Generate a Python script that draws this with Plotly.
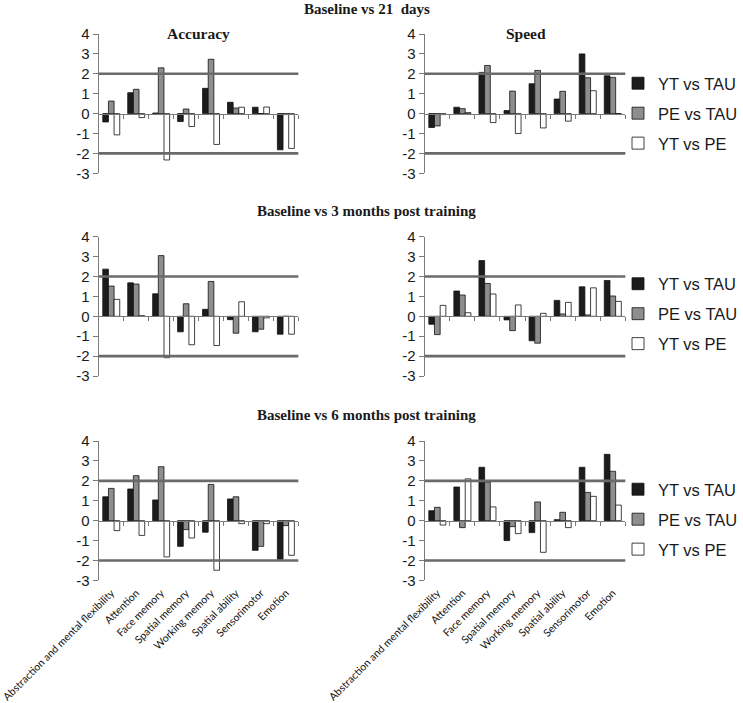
import plotly.graph_objects as go

categories = ["Abstraction and mental flexibility", "Attention", "Face memory",
              "Spatial memory", "Working memory", "Spatial ability",
              "Sensorimotor", "Emotion"]
series_names = ["YT vs TAU", "PE vs TAU", "YT vs PE"]

acc21_yt_tau = [-0.42, 1.05, 0.03, -0.40, 1.27, 0.57, 0.32, -1.82]
acc21_pe_tau = [0.63, 1.22, 2.30, 0.23, 2.73, 0.28, 0.00, -0.05]
acc21_yt_pe = [-1.07, -0.20, -2.33, -0.65, -1.55, 0.32, 0.33, -1.75]

spd21_yt_tau = [-0.70, 0.32, 2.07, 0.15, 1.50, 0.73, 3.00, 1.90]
spd21_pe_tau = [-0.62, 0.25, 2.42, 1.13, 2.17, 1.12, 1.80, 1.82]
spd21_yt_pe = [-0.05, 0.05, -0.45, -1.00, -0.72, -0.38, 1.15, 0.00]

acc3_yt_tau = [2.37, 1.68, 1.13, -0.78, 0.35, -0.17, -0.78, -0.90]
acc3_pe_tau = [1.52, 1.62, 3.05, 0.63, 1.75, -0.85, -0.65, 0.00]
acc3_yt_pe = [0.85, 0.03, -2.08, -1.43, -1.47, 0.73, -0.08, -0.90]

spd3_yt_tau = [-0.40, 1.27, 2.80, -0.18, -1.23, 0.80, 1.48, 1.80]
spd3_pe_tau = [-0.92, 1.07, 1.65, -0.72, -1.35, 0.12, 0.07, 1.02]
spd3_yt_pe = [0.55, 0.18, 1.12, 0.57, 0.15, 0.70, 1.43, 0.75]

acc6_yt_tau = [1.20, 1.59, 1.04, -1.29, -0.58, 1.09, -1.49, -1.94]
acc6_pe_tau = [1.62, 2.26, 2.71, -0.45, 1.82, 1.20, -1.29, -0.25]
acc6_yt_pe = [-0.50, -0.74, -1.82, -0.87, -2.49, -0.15, -0.15, -1.74]

spd6_yt_tau = [0.50, 1.69, 2.68, -1.00, -0.60, 0.05, 2.68, 3.33]
spd6_pe_tau = [0.67, -0.35, 1.94, -0.30, 0.94, 0.42, 1.42, 2.48]
spd6_yt_pe = [-0.22, 2.10, 0.69, -0.65, -1.59, -0.35, 1.22, 0.78]

row_titles = ["Baseline vs 21  days", "Baseline vs 3 months post training",
              "Baseline vs 6 months post training"]
col_titles = ["Accuracy", "Speed"]
y_tick_vals = [-3, -2, -1, 0, 1, 2, 3, 4]
y_tick_text = ["-3", "-2", "-1", "0", "1", "2", "3", "4"]
ref_levels = [2, -2]
y_range = [-3, 4]

panels = [
    [(acc21_yt_tau, acc21_pe_tau, acc21_yt_pe), (spd21_yt_tau, spd21_pe_tau, spd21_yt_pe)],
    [(acc3_yt_tau, acc3_pe_tau, acc3_yt_pe), (spd3_yt_tau, spd3_pe_tau, spd3_yt_pe)],
    [(acc6_yt_tau, acc6_pe_tau, acc6_yt_pe), (spd6_yt_tau, spd6_pe_tau, spd6_yt_pe)],
]

W, H = 743, 703
fill_colors = ["#1c1c1c", "#8e8e8e", "#ffffff"]
axis_color = "#7a7a7a"
ref_color = "#6a6a6a"

# pixel layout
x_doms_px = [(100, 302), (430, 633)]
y_doms_px = [(34, 173.3), (236.7, 376), (441, 580.4)]
legend_centers_px = [113.5, 314, 519.5]
row_title_px = [9, 211, 415]

def px_x(p):
    return p / W

def px_y(p):
    return 1 - p / H

fig = go.Figure()
layout = dict(
    width=W, height=H, autosize=False,
    margin=dict(l=0, r=0, t=0, b=0),
    template="none",
    paper_bgcolor="white", plot_bgcolor="rgba(0,0,0,0)",
    barmode="group", bargap=0.32, bargroupgap=0.0,
    font=dict(family="Liberation Sans, Arial, sans-serif", color="#1a1a1a"),
    showlegend=True,
)
shapes = []
annotations = []

for r in range(3):
    y0p, y1p = y_doms_px[r]
    ydom = [px_y(y1p), px_y(y0p)]
    zero_pos = ydom[0] + (0 - y_range[0]) / (y_range[1] - y_range[0]) * (ydom[1] - ydom[0])
    for c in range(2):
        n = r * 2 + c + 1
        xa = "x" if n == 1 else f"x{n}"
        ya = "y" if n == 1 else f"y{n}"
        x0p, x1p = x_doms_px[c]
        legend_name = "legend" if r == 0 else f"legend{r + 1}"
        for s in range(3):
            fig.add_trace(go.Bar(
                x=categories, y=panels[r][c][s], name=series_names[s],
                xaxis=xa, yaxis=ya,
                marker=dict(color=fill_colors[s], line=dict(color="#111111", width=0.8)),
                showlegend=(c == 1), legend=legend_name,
                legendgroup=f"r{r}s{s}",
            ))
        layout[f"xaxis{'' if n == 1 else n}"] = dict(
            domain=[px_x(x0p), px_x(x1p)], anchor="free", position=zero_pos,
            type="category", showline=True, linecolor=axis_color, linewidth=1.2,
            ticks="outside", tickson="boundaries", ticklen=4, tickcolor=axis_color,
            tickwidth=1, showgrid=False, zeroline=False, automargin=False,
            showticklabels=(r == 2), tickangle=-45, ticklabelstandoff=61,
            tickfont=dict(family="Lato, Liberation Sans, sans-serif", size=10.5, color="#111111"),
        )
        layout[f"yaxis{'' if n == 1 else n}"] = dict(
            domain=ydom, anchor=xa, range=y_range, tickvals=y_tick_vals,
            ticktext=y_tick_text, showline=True, linecolor=axis_color, linewidth=1.2,
            ticks="outside", ticklen=5, tickcolor=axis_color, showgrid=False,
            zeroline=False, automargin=False,
            tickfont=dict(family="Liberation Sans, Arial, sans-serif", size=15, color="#1a1a1a"),
        )
        for lvl in ref_levels:
            shapes.append(dict(type="line", xref=f"{xa} domain", yref=ya,
                               x0=0, x1=1, y0=lvl, y1=lvl, layer="above",
                               line=dict(color=ref_color, width=2.6)))
    leg = dict(x=px_x(626), xanchor="left", y=px_y(legend_centers_px[r]), yanchor="middle",
               bgcolor="rgba(0,0,0,0)", borderwidth=0, tracegroupgap=5.5,
               font=dict(family="Liberation Sans, Arial, sans-serif", size=16.5, color="#1a1a1a"))
    layout["legend" if r == 0 else f"legend{r + 1}"] = leg
    annotations.append(dict(text=f"<b>{row_titles[r]}</b>", xref="paper", yref="paper",
                            x=px_x(371), y=px_y(row_title_px[r]), showarrow=False,
                            xanchor="center", yanchor="middle",
                            font=dict(family="Liberation Serif, Times New Roman, serif", size=15, color="#1a1a1a")))

col_title_px = [(201, 34), (532, 33)]
for c in range(2):
    annotations.append(dict(text=f"<b>{col_titles[c]}</b>", xref="paper", yref="paper",
                            x=px_x(col_title_px[c][0]), y=px_y(col_title_px[c][1]),
                            showarrow=False, xanchor="center", yanchor="middle",
                            font=dict(family="Liberation Serif, Times New Roman, serif", size=15.5, color="#1a1a1a")))

layout["shapes"] = shapes
layout["annotations"] = annotations
fig.update_layout(**layout)
fig.write_html("out.html", config={"displayModeBar": False},
               post_script="document.body.style.margin='0';document.body.style.overflow='hidden';")
